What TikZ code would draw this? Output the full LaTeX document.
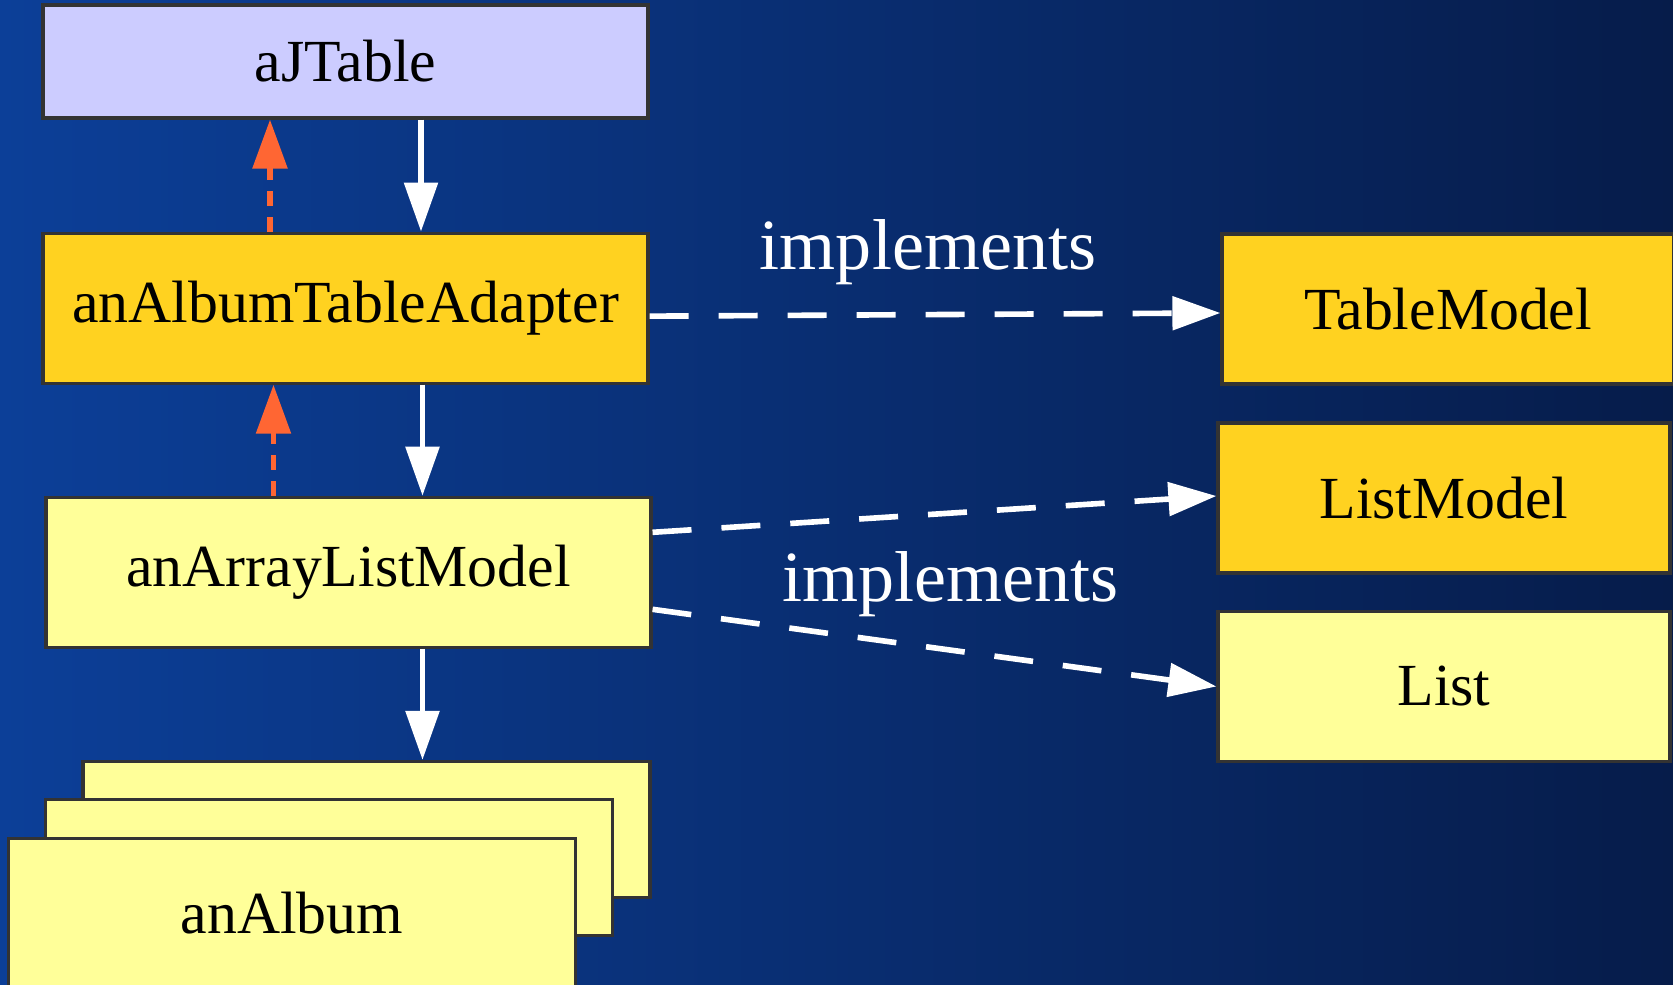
\documentclass[tikz,border=0pt]{standalone}
\usepackage{fontspec}
\setmainfont{Liberation Serif}
\usetikzlibrary{arrows.meta}
\usetikzlibrary{positioning,calc}

\definecolor{bgleft}{RGB}{12,63,152}
\definecolor{bgright}{RGB}{6,28,74}
\definecolor{lavender}{RGB}{204,204,255}
\definecolor{gold}{RGB}{255,210,32}
\definecolor{paleyellow}{RGB}{255,255,153}
\definecolor{edgegray}{RGB}{51,51,51}
\definecolor{signal}{RGB}{255,102,51}

\begin{document}
\begin{tikzpicture}
\tikzset{
    box/.style={
        draw=edgegray,
        line width=0.9pt,
        rectangle,
        minimum width=6.05cm,
        minimum height=1.5cm,
        inner sep=0pt,
        font=\fontsize{17}{20}\selectfont,
    },
    view/.style={
        box,
        fill=lavender,
        minimum height=1.13cm
    },
    adapter/.style={
        box,
        fill=gold
    },
    model/.style={
        box,
        fill=paleyellow
    },
    item/.style={
        box,
        fill=paleyellow,
        minimum width=5.67cm,
        minimum height=1.36cm
    },
    iface/.style={
        box,
        fill=#1,
        minimum width=4.52cm
    },
    iface/.default=gold,
    uses/.style={
        draw=white,
        line width=1.6pt,
        -{Triangle[length=0.49cm,width=0.33cm]}
    },
    notifies/.style={
        draw=signal,
        line width=1.6pt,
        dash pattern=on 0.15cm off 0.11cm,
        -{Triangle[length=0.49cm,width=0.34cm]}
    },
    realizes/.style={
        draw=white,
        line width=1.6pt,
        dash pattern=on 0.39cm off 0.3cm,
        -{Triangle[length=0.48cm,width=0.33cm]}
    },
    tag/.style={
        text=white,
        font=\fontsize{20.5}{24}\selectfont
    },
}
\clip (0,0) rectangle (16.73,-9.85);
\shade[left color=bgleft, right color=bgright] (0,0) rectangle (16.73,-9.85);

% left column
\node[view] (ajtable) at (3.455,-0.615) {aJTable};
\node[adapter, below=1.12cm of ajtable] (tableadapter) {anAlbumTableAdapter};
\node[model, below=1.11cm of tableadapter, xshift=0.03cm] (arraylist) {anArrayListModel};
\node[item, below=1.11cm of arraylist, xshift=0.18cm] (album3) {};
\node[item] (album2) at ($(album3)+(-0.375,-0.38)$) {};
\node[item, anchor=north, minimum height=1.5cm] (album1) at ($(album2.north)+(-0.37,-0.39)$) {anAlbum};

% right column
\node[iface] (tablemodel) at (14.48,-3.09) {TableModel};
\node[iface] (listmodel) at (14.44,-4.98) {ListModel};
\node[iface=paleyellow] (list) at (14.44,-6.865) {List};

\draw[uses] ([xshift=0.755cm]ajtable.south) -- ([xshift=0.755cm]tableadapter.north);
\draw[notifies] ([xshift=-0.755cm]tableadapter.north) -- ([xshift=-0.755cm]ajtable.south);
\draw[uses] ([xshift=0.77cm]tableadapter.south) -- ([xshift=0.77cm]tableadapter.south |- arraylist.north);
\draw[notifies] ([xshift=-0.75cm]arraylist.north) -- ([xshift=-0.75cm]arraylist.north |- tableadapter.south);
\draw[uses] ([xshift=0.74cm]arraylist.south) -- ([xshift=0.74cm]arraylist.south |- album3.north);

\draw[realizes] ([yshift=-0.08cm]tableadapter.east) --
    node[tag, midway, xshift=-0.07cm, yshift=0.62cm] (tag1) {implements}
    ([yshift=-0.04cm]tablemodel.west);
\draw[realizes] ([yshift=0.4cm]arraylist.east) -- ([yshift=0.02cm]listmodel.west);
\draw[realizes] ([yshift=-0.37cm]arraylist.east) --
    node[tag, midway, xshift=0.16cm, yshift=0.64cm] (tag2) {implements}
    ([yshift=0cm]list.west);
\end{tikzpicture}
\end{document}
